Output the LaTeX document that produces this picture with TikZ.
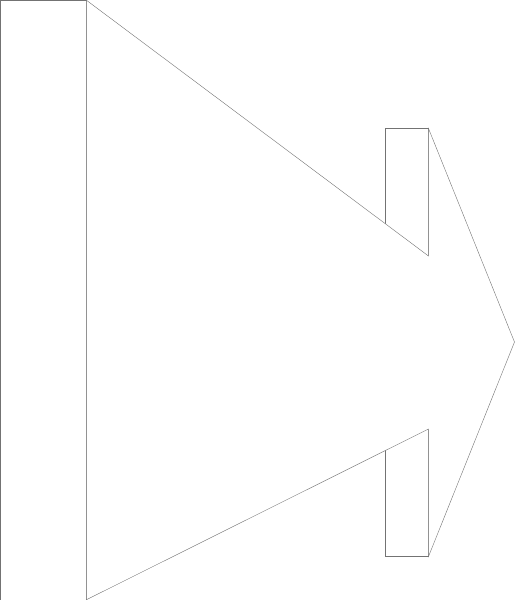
\documentclass[tikz,border=0pt]{standalone}
\usepackage{tikz}
\tikzset{
    part/.style = {
       draw = black!55,
       line width = .4pt,
       fill = white
    }
}
\begin{document}
\begin{tikzpicture}[x=1pt,y=-1pt]
   \useasboundingbox (0,0) rectangle (515,600);
   % back plate
   \draw[part] (0,0.3) rectangle (86.5,599.7);
   % fins behind the head
   \draw[part] (385.5,128.5) rectangle (428.5,256);
   \draw[part] (385.5,429) rectangle (428.5,556.5);
   % the arrow
   \coordinate (TopRoot) at (86.5,0.3);
   \coordinate (TopIn) at (428.5,256);
   \coordinate (TopOut) at (428.5,128.5);
   \coordinate (Tip) at (514.5,342);
   \coordinate (BotOut) at (428.5,556.5);
   \coordinate (BotIn) at (428.5,429);
   \coordinate (BotRoot) at (86.5,599.7);
   \draw[part] (TopRoot) -- (TopIn) -- (TopOut) -- (Tip) -- (BotOut)
      -- (BotIn) -- (BotRoot) -- cycle;
\end{tikzpicture}
\end{document}
